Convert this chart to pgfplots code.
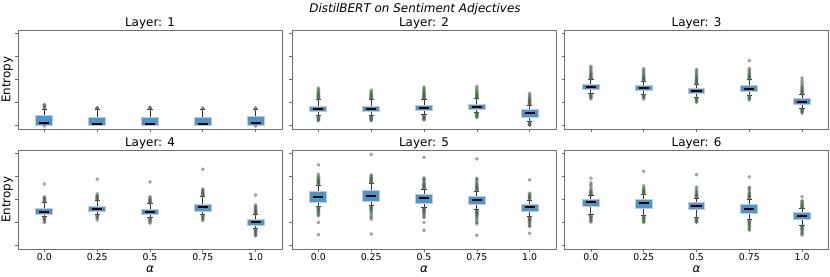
\documentclass[border=0pt]{standalone}
\usepackage{fontspec}
\setmainfont{DejaVu Sans}
\usepackage{pgfplots}
\pgfplotsset{compat=1.18}
\usepgfplotslibrary{statistics}
\definecolor{boxfill}{RGB}{74,150,205}
\definecolor{boxedge}{RGB}{200,200,200}
\definecolor{frame}{RGB}{110,110,110}
\definecolor{outedge}{RGB}{95,115,95}
\definecolor{outfill}{RGB}{20,60,20}
\newcommand{\bx}[7]{\addplot[bxstyle, boxplot prepared={draw position=#1, lower whisker=#2, lower quartile=#3, median=#4, upper quartile=#5, upper whisker=#6}] table[row sep=\\,y index=0]{data\\ #7};}
\pgfplotsset{
  bxstyle/.style={mark=*, mark size=1.6bp, mark options={draw=outedge, fill=outfill, draw opacity=0.6, fill opacity=0.3, line width=0.6bp, solid}},
  boxplot/draw direction=y,
  boxplot/box extend=0.32,
  boxplot/whisker extend=0.1,
  boxplot/every box/.style={draw=boxedge, fill=boxfill, line width=1bp},
  boxplot/every median/.style={draw=black, line width=2bp},
  boxplot/every whisker/.style={draw=black!80, line width=0.9bp},
  boxplot/draw/median/.code={\draw[/pgfplots/boxplot/every median/.try] (boxplot box cs:\pgfplotsboxplotvalue{median},0.2) -- (boxplot box cs:\pgfplotsboxplotvalue{median},0.8);},
  panel/.style={scale only axis, width=264bp, height=98.5bp, anchor=south west,
    xmin=0.5, xmax=5.5, ymin=-0.16, ymax=4.1,
    xtick={1,2,3,4,5}, ytick={0,1,2,3,4}, yticklabels={,,,,},
    tick align=outside, major tick length=3bp, tick pos=left,
    axis line style={draw=frame, line width=0.8bp},
    every tick/.style={draw=frame, line width=0.6bp},
    every axis title shift=0pt,
    title style={at={(0.5,1)}, anchor=base, yshift=3.8bp, inner sep=0pt, font=\fontsize{12}{14}\selectfont},
    ylabel style={at={(axis description cs:-0.0288,0.5)}, anchor=base, inner sep=0pt, font=\fontsize{12}{14}\selectfont},
    xlabel style={at={(axis description cs:0.5,0)}, anchor=base, yshift=-23.8bp, inner sep=0pt, font=\fontsize{12}{14}\selectfont},
    xticklabel style={anchor=base, yshift=-8.3bp, inner sep=0pt, font=\fontsize{9.4}{10}\selectfont},
  },
  toprow/.style={panel, xticklabels={,,,,}},
  botrow/.style={panel, xticklabels={0.0,0.25,0.5,0.75,1.0}, xlabel={\itshape α}},
}
\begin{document}
\begin{tikzpicture}
\useasboundingbox (0,0) rectangle (830bp,277bp);
\node[anchor=base, font=\fontsize{12}{14}\selectfont\itshape] at (415bp,264.3bp) {DistilBERT on Sentiment Adjectives};
% Layer 1
\begin{axis}[toprow, at={(18bp,148bp)}, title={Layer: 1}, ylabel={Entropy}]
\bx{1}{0.0}{0.0}{0.11}{0.42}{0.70}{0.74\\0.78\\0.82\\0.86\\0.90\\-0.03\\}
\bx{2}{0.0}{0.0}{0.04}{0.33}{0.70}{0.72\\0.74\\0.76\\}
\bx{3}{0.0}{0.0}{0.05}{0.34}{0.70}{0.72\\0.75\\0.77\\}
\bx{4}{0.0}{0.0}{0.05}{0.35}{0.70}{0.72\\0.74\\}
\bx{5}{0.0}{0.0}{0.09}{0.37}{0.70}{0.72\\0.75\\-0.03\\}
\end{axis}
% Layer 2
\begin{axis}[toprow, at={(292bp,148bp)}, title={Layer: 2}]
\bx{1}{0.42}{0.61}{0.71}{0.81}{1.10}{1.13\\1.16\\1.19\\1.22\\1.25\\1.28\\1.31\\1.34\\1.38\\1.42\\1.47\\1.53\\1.61\\0.39\\0.36\\0.33\\0.30\\0.27\\0.24\\0.20\\}
\bx{2}{0.42}{0.61}{0.71}{0.81}{1.10}{1.13\\1.16\\1.19\\1.22\\1.25\\1.28\\1.31\\1.35\\1.39\\1.44\\1.52\\0.39\\0.36\\0.33\\0.30\\0.27\\0.24\\0.20\\}
\bx{3}{0.45}{0.62}{0.74}{0.84}{1.12}{1.15\\1.18\\1.21\\1.24\\1.27\\1.30\\1.33\\1.37\\1.41\\1.46\\1.52\\1.58\\1.65\\0.42\\0.39\\0.36\\0.33\\0.30\\0.27\\0.23\\}
\bx{4}{0.57}{0.68}{0.80}{0.91}{1.14}{1.17\\1.20\\1.23\\1.26\\1.29\\1.32\\1.36\\1.40\\1.45\\1.51\\1.59\\1.68\\0.54\\0.51\\0.48\\0.45\\0.42\\0.38\\0.35\\}
\bx{5}{0.17}{0.35}{0.55}{0.70}{0.86}{0.89\\0.92\\0.95\\0.98\\1.01\\1.04\\1.07\\1.10\\1.14\\1.18\\1.23\\1.30\\1.38\\0.14\\0.11\\0.08\\0.05\\0.02\\0.0\\}
\end{axis}
% Layer 3
\begin{axis}[toprow, at={(564.5bp,148bp)}, title={Layer: 3}]
\bx{1}{1.36}{1.54}{1.67}{1.78}{1.97}{2.00\\2.03\\2.06\\2.09\\2.12\\2.15\\2.19\\2.23\\2.28\\2.34\\2.41\\2.48\\2.55\\1.33\\1.30\\1.27\\1.24\\1.20\\1.14\\}
\bx{2}{1.33}{1.51}{1.62}{1.74}{1.90}{1.93\\1.96\\1.99\\2.02\\2.05\\2.09\\2.13\\2.18\\2.24\\2.31\\2.38\\2.45\\1.30\\1.27\\1.24\\1.20\\1.14\\}
\bx{3}{1.22}{1.36}{1.49}{1.61}{1.77}{1.80\\1.83\\1.86\\1.89\\1.92\\1.95\\1.99\\2.03\\2.08\\2.14\\2.20\\2.27\\2.34\\2.41\\1.19\\1.16\\1.13\\1.09\\1.05\\0.99\\}
\bx{4}{1.29}{1.45}{1.59}{1.74}{1.97}{2.00\\2.03\\2.06\\2.09\\2.12\\2.16\\2.20\\2.25\\2.31\\2.38\\2.45\\2.80\\1.26\\1.23\\1.19\\1.15\\1.10\\}
\bx{5}{0.74}{0.88}{1.01}{1.14}{1.32}{1.35\\1.38\\1.41\\1.44\\1.47\\1.50\\1.54\\1.58\\1.63\\1.69\\1.76\\1.84\\1.93\\2.04\\0.71\\0.68\\0.65\\0.61\\0.57\\0.52\\}
\end{axis}
% Layer 4
\begin{axis}[botrow, at={(18bp,28bp)}, title={Layer: 4}, ylabel={Entropy}]
\bx{1}{1.23}{1.35}{1.46}{1.58}{1.86}{1.89\\1.92\\1.95\\1.98\\2.01\\2.05\\2.10\\2.65\\1.20\\1.17\\1.14\\1.10\\1.05\\0.99\\}
\bx{2}{1.32}{1.45}{1.57}{1.67}{1.93}{1.96\\1.99\\2.02\\2.05\\2.08\\2.11\\2.15\\2.22\\2.86\\1.29\\1.26\\1.22\\1.17\\1.09\\}
\bx{3}{1.19}{1.33}{1.43}{1.54}{1.80}{1.83\\1.86\\1.89\\1.92\\1.95\\1.99\\2.04\\2.10\\2.74\\1.16\\1.13\\1.10\\1.06\\1.01\\0.96\\}
\bx{4}{1.33}{1.48}{1.64}{1.78}{2.10}{2.13\\2.16\\2.19\\2.22\\2.25\\2.29\\2.33\\2.38\\2.43\\3.29\\1.30\\1.27\\1.23\\1.18\\1.13\\1.07\\}
\bx{5}{0.72}{0.86}{0.99}{1.10}{1.32}{1.35\\1.38\\1.41\\1.44\\1.47\\1.50\\1.54\\1.58\\1.63\\1.68\\1.74\\2.17\\0.69\\0.66\\0.63\\0.60\\0.57\\0.53\\0.49\\0.45\\0.41\\}
\end{axis}
% Layer 5
\begin{axis}[botrow, at={(292bp,28bp)}, title={Layer: 5}]
\bx{1}{1.68}{1.86}{2.09}{2.33}{2.61}{2.64\\2.67\\2.70\\2.73\\2.76\\2.79\\2.83\\2.87\\2.92\\2.98\\3.07\\3.48\\1.65\\1.62\\1.59\\1.56\\1.52\\1.48\\1.43\\1.38\\1.33\\1.28\\0.99\\0.46\\}
\bx{2}{1.72}{1.90}{2.14}{2.36}{2.68}{2.71\\2.74\\2.77\\2.80\\2.83\\2.86\\2.90\\2.94\\2.99\\3.04\\3.93\\1.69\\1.66\\1.63\\1.59\\1.55\\1.50\\1.44\\1.36\\1.27\\1.20\\1.13\\0.49\\}
\bx{3}{1.62}{1.81}{2.03}{2.19}{2.43}{2.46\\2.49\\2.52\\2.55\\2.58\\2.61\\2.65\\2.69\\2.74\\2.80\\2.86\\2.91\\3.80\\1.59\\1.56\\1.53\\1.50\\1.46\\1.42\\1.37\\1.31\\1.25\\1.20\\0.99\\0.65\\}
\bx{4}{1.54}{1.78}{1.97}{2.13}{2.35}{2.38\\2.41\\2.44\\2.47\\2.50\\2.54\\2.58\\2.63\\2.69\\2.76\\2.84\\2.90\\3.74\\1.51\\1.48\\1.45\\1.42\\1.38\\1.34\\1.29\\1.23\\1.16\\1.08\\1.00\\0.93\\0.43\\}
\bx{5}{1.23}{1.46}{1.65}{1.77}{1.96}{1.99\\2.02\\2.05\\2.08\\2.11\\2.15\\2.20\\2.25\\2.83\\1.20\\1.17\\1.14\\1.11\\1.07\\1.03\\0.98\\0.92\\0.86\\0.81\\0.52\\}
\end{axis}
% Layer 6
\begin{axis}[botrow, at={(564.5bp,28bp)}, title={Layer: 6}]
\bx{1}{1.32}{1.67}{1.86}{2.00}{2.14}{2.17\\2.20\\2.23\\2.26\\2.29\\2.33\\2.38\\2.45\\2.55\\2.62\\2.70\\2.90\\1.29\\1.26\\1.23\\1.19\\1.15\\1.10\\1.05\\1.01\\}
\bx{2}{1.28}{1.59}{1.84}{2.00}{2.19}{2.22\\2.25\\2.28\\2.31\\2.34\\2.38\\2.43\\2.49\\2.58\\3.20\\1.25\\1.22\\1.19\\1.15\\1.11\\1.06\\1.02\\0.99\\}
\bx{3}{1.20}{1.54}{1.71}{1.87}{2.04}{2.07\\2.10\\2.13\\2.16\\2.19\\2.23\\2.28\\2.34\\2.42\\2.51\\3.06\\1.17\\1.14\\1.11\\1.07\\1.03\\0.99\\}
\bx{4}{1.10}{1.36}{1.59}{1.75}{2.00}{2.03\\2.06\\2.09\\2.12\\2.15\\2.19\\2.24\\2.30\\2.38\\2.45\\2.51\\2.96\\1.07\\1.04\\1.01\\0.97\\0.93\\0.88\\0.82\\0.76\\0.70\\0.65\\}
\bx{5}{0.87}{1.13}{1.28}{1.41}{1.59}{1.62\\1.65\\1.68\\1.71\\1.74\\1.78\\1.83\\1.88\\1.93\\2.10\\0.84\\0.81\\0.78\\0.75\\0.71\\0.67\\0.62\\0.56\\0.50\\0.45\\}
\end{axis}
\end{tikzpicture}
\end{document}
